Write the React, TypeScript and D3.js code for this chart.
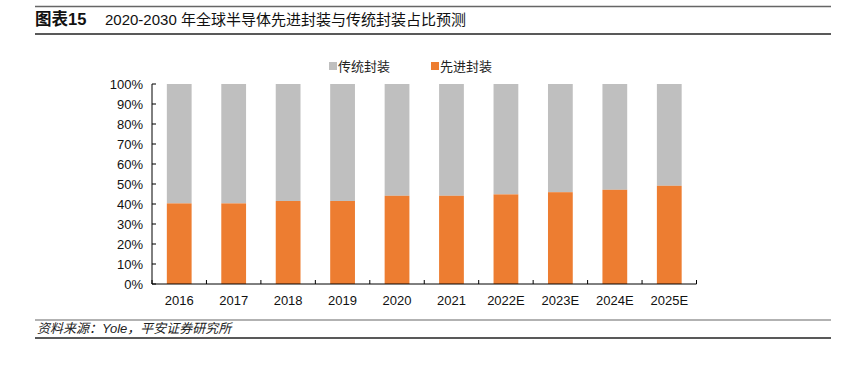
import React from "react";
import * as d3 from "d3";

const categories = ["2016", "2017", "2018", "2019", "2020", "2021", "2022E", "2023E", "2024E", "2025E"];
const advanced = [40.3, 40.3, 41.5, 41.5, 44.1, 44.1, 44.8, 45.9, 47.1, 49.1];
const yTicks = [0, 10, 20, 30, 40, 50, 60, 70, 80, 90, 100];
const seriesNames = ["传统封装", "先进封装"];
const colors = ["#BFBFBF", "#ED7D31"];

const FONT = "'Liberation Sans', Arial, 'Noto Sans CJK SC', sans-serif";

export default function App() {
  const W = 849, H = 365;
  const left = 152, right = 696.5, top = 84, bottom = 284;
  const x = d3.scaleBand().domain(categories).range([left, right]).paddingInner(0.545).paddingOuter(0.2725);
  const y = d3.scaleLinear().domain([0, 100]).range([bottom, top]);
  const band = (right - left) / categories.length;
  const bounds = d3.range(categories.length + 1).map((i) => left + i * band);

  return (
    <svg width={W} height={H} style={{ position: "absolute", left: 0, top: 0 }} fontFamily={FONT}>
      <rect width={W} height={H} fill="#fff" />
      {/* header */}
      <line x1={35} x2={831} y1={6.5} y2={6.5} stroke="#666" strokeWidth={1.5} />
      <text x={35} y={25} fontSize={16.5} fontWeight="bold" fill="#111">图表15</text>
      <text x={105} y={24.5} fontSize={15} fill="#111">2020-2030 年全球半导体先进封装与传统封装占比预测</text>
      <line x1={35} x2={831} y1={34} y2={34} stroke="#222" strokeWidth={1.5} />

      {/* legend */}
      {seriesNames.map((n, i) => (
        <g key={n} transform={`translate(${i === 0 ? 329 : 431},0)`}>
          <rect x={0} y={62} width={8} height={8} fill={colors[i]} />
          <text x={9} y={71} fontSize={13} fill="#222">{n}</text>
        </g>
      ))}

      {/* bars */}
      {categories.map((c, i) => (
        <g key={c}>
          <rect x={x(c)} y={y(100)} width={x.bandwidth()} height={y(advanced[i]) - y(100)} fill={colors[0]} />
          <rect x={x(c)} y={y(advanced[i])} width={x.bandwidth()} height={y(0) - y(advanced[i])} fill={colors[1]} />
        </g>
      ))}

      {/* y axis */}
      <line x1={left} x2={left} y1={top} y2={bottom} stroke="#000" strokeWidth={1} />
      {yTicks.map((t) => (
        <g key={t}>
          <line x1={left} x2={left + 4} y1={y(t)} y2={y(t)} stroke="#000" />
          <text x={143} y={y(t) + 4.5} fontSize={13} textAnchor="end" fill="#111">{t}%</text>
        </g>
      ))}

      {/* x axis */}
      <line x1={left} x2={right} y1={bottom} y2={bottom} stroke="#000" strokeWidth={1} />
      {bounds.map((b, i) => (
        <line key={i} x1={b} x2={b} y1={bottom} y2={bottom - 4} stroke="#000" />
      ))}
      {categories.map((c) => (
        <text key={c} x={(x(c) as number) + x.bandwidth() / 2} y={305} fontSize={13} textAnchor="middle" fill="#111">{c}</text>
      ))}

      {/* footer */}
      <line x1={35} x2={831} y1={320} y2={320} stroke="#666" strokeWidth={1.2} />
      <text x={37} y={333} fontSize={13} fontStyle="italic" fill="#222">资料来源：Yole，平安证券研究所</text>
      <line x1={35} x2={831} y1={338} y2={338} stroke="#222" strokeWidth={1.5} />
    </svg>
  );
}
